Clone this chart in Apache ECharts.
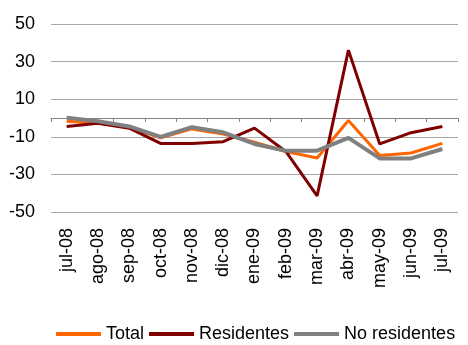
<!DOCTYPE html>
<html>
<head>
<meta charset="utf-8">
<script src="https://cdn.jsdelivr.net/npm/echarts@6/dist/echarts.min.js"></script>
<style>
  html, body { margin: 0; padding: 0; background: #fff; }
  #chart { width: 468px; height: 345px; }
</style>
</head>
<body>
<div id="chart"></div>
<script>
// Monthly categories, July 2008 to July 2009
const months = ['jul-08', 'ago-08', 'sep-08', 'oct-08', 'nov-08', 'dic-08', 'ene-09',
                'feb-09', 'mar-09', 'abr-09', 'may-09', 'jun-09', 'jul-09'];

// Year-on-year change (%)
const total =        [-1.7, -2.8, -4.9, -10.6, -5.8, -8.5, -12.9, -17.8, -21.3, -1.3, -20.0, -18.6, -13.5];
const residentes =   [-4.5, -2.8, -5.4, -13.5, -13.5, -12.6, -5.4, -17.8, -41.4, 36.1, -13.8, -7.8, -4.5];
const noResidentes = [0.1, -1.7, -4.5, -10.0, -4.9, -7.6, -13.8, -17.4, -17.4, -10.6, -21.5, -21.5, -16.5];

// Value axis ticks
const yTicks = [-50, -30, -10, 10, 30, 50];

const FONT = '"Liberation Sans", Arial, sans-serif';

const chart = echarts.init(document.getElementById('chart'), null, { renderer: 'canvas' });

chart.setOption({
  animation: false,
  backgroundColor: '#ffffff',
  grid: { left: 51, right: 10, top: 24, bottom: 133, containLabel: false },
  legend: {
    left: 56,
    top: 322,
    icon: 'rect',
    itemWidth: 45,
    itemHeight: 4,
    itemGap: 5,
    padding: [2, 0, 2, 0],
    textStyle: { fontFamily: FONT, fontSize: 18, color: '#000', lineHeight: 20 },
    data: ['Total', 'Residentes', 'No residentes']
  },
  xAxis: {
    type: 'category',
    data: months,
    boundaryGap: true,
    axisLine: { lineStyle: { color: '#868686', width: 1 } },
    axisTick: { show: true, length: 4, lineStyle: { color: '#868686' } },
    axisLabel: {
      rotate: 90,
      margin: 16,
      interval: 0,
      fontFamily: FONT,
      fontSize: 18,
      color: '#000'
    },
    splitLine: { show: false }
  },
  yAxis: {
    type: 'value',
    min: yTicks[0],
    max: yTicks[yTicks.length - 1],
    axisTick: { show: false, customValues: yTicks },
    axisLabel: {
      customValues: yTicks,
      margin: 16,
      fontFamily: FONT,
      fontSize: 18,
      color: '#000'
    },
    axisLine: { show: false },
    splitLine: { show: true, lineStyle: { color: '#a6a6a6', width: 1 } }
  },
  series: [
    {
      name: 'Total',
      type: 'line',
      data: total,
      symbol: 'none',
      color: '#ff6600',
      lineStyle: { color: '#ff6600', width: 3 }
    },
    {
      name: 'Residentes',
      type: 'line',
      data: residentes,
      symbol: 'none',
      color: '#800000',
      lineStyle: { color: '#800000', width: 3 }
    },
    {
      name: 'No residentes',
      type: 'line',
      data: noResidentes,
      symbol: 'none',
      color: '#808080',
      lineStyle: { color: '#808080', width: 4 }
    }
  ]
});
</script>
</body>
</html>
